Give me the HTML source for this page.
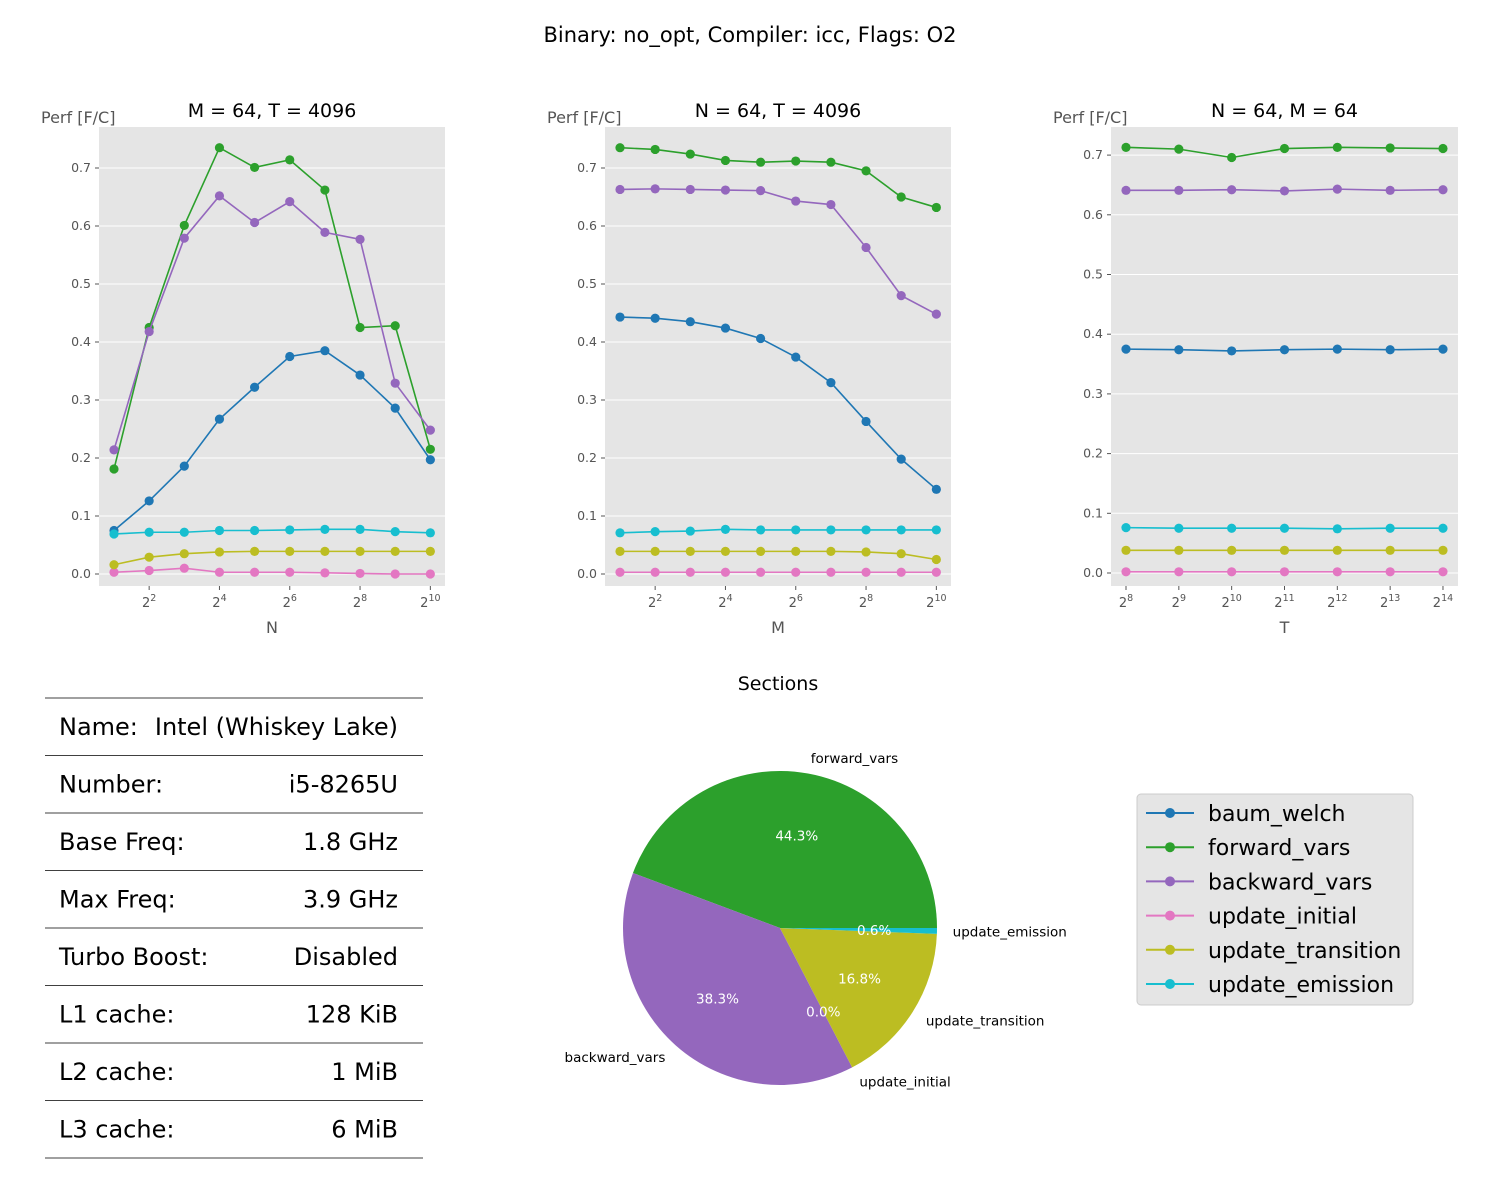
<!DOCTYPE html>
<html><head><meta charset="utf-8"><style>
body{margin:0;background:#fff;font-family:"DejaVu Sans","Liberation Sans",sans-serif}
svg{display:block}
</style></head><body>
<svg id="s" width="1500" height="1200" xmlns="http://www.w3.org/2000/svg">
<text x="750" y="42" font-size="21" text-anchor="middle">Binary: no_opt, Compiler: icc, Flags: O2</text>
</svg>
<script>
const seriesNames=["baum_welch","forward_vars","backward_vars","update_initial","update_transition","update_emission"];
const colors=["#1f77b4","#2ca02c","#9467bd","#e377c2","#bcbd22","#17becf"];
const nExp=[1,2,3,4,5,6,7,8,9,10];
const nBaum=[0.075,0.126,0.186,0.267,0.322,0.375,0.385,0.343,0.286,0.197];
const nFwd=[0.181,0.425,0.601,0.735,0.701,0.714,0.662,0.425,0.428,0.215];
const nBwd=[0.214,0.418,0.579,0.652,0.606,0.642,0.589,0.577,0.329,0.248];
const nInit=[0.003,0.006,0.010,0.003,0.003,0.003,0.002,0.001,0.000,0.000];
const nTrans=[0.016,0.029,0.035,0.038,0.039,0.039,0.039,0.039,0.039,0.039];
const nEmis=[0.069,0.072,0.072,0.075,0.075,0.076,0.077,0.077,0.073,0.071];
const mExp=[1,2,3,4,5,6,7,8,9,10];
const mBaum=[0.443,0.441,0.435,0.424,0.406,0.374,0.330,0.263,0.198,0.146];
const mFwd=[0.735,0.732,0.724,0.713,0.710,0.712,0.710,0.695,0.650,0.632];
const mBwd=[0.663,0.664,0.663,0.662,0.661,0.643,0.637,0.563,0.480,0.448];
const mInit=[0.003,0.003,0.003,0.003,0.003,0.003,0.003,0.003,0.003,0.003];
const mTrans=[0.039,0.039,0.039,0.039,0.039,0.039,0.039,0.038,0.035,0.025];
const mEmis=[0.071,0.073,0.074,0.077,0.076,0.076,0.076,0.076,0.076,0.076];
const tExp=[8,9,10,11,12,13,14];
const tBaum=[0.375,0.374,0.372,0.374,0.375,0.374,0.375];
const tFwd=[0.713,0.710,0.696,0.711,0.713,0.712,0.711];
const tBwd=[0.641,0.641,0.642,0.640,0.643,0.641,0.642];
const tInit=[0.002,0.002,0.002,0.002,0.002,0.002,0.002];
const tTrans=[0.038,0.038,0.038,0.038,0.038,0.038,0.038];
const tEmis=[0.076,0.075,0.075,0.075,0.074,0.075,0.075];
const yTicks=[0,0.1,0.2,0.3,0.4,0.5,0.6,0.7];
const pieLabels=["forward_vars","backward_vars","update_initial","update_transition","update_emission"];
const pieValues=[44.3,38.3,0.0,16.8,0.6];
const pieColors=["#2ca02c","#9467bd","#e377c2","#bcbd22","#17becf"];
const tableKeys=["Name:","Number:","Base Freq:","Max Freq:","Turbo Boost:","L1 cache:","L2 cache:","L3 cache:"];
const tableVals=["Intel (Whiskey Lake)","i5-8265U","1.8 GHz","3.9 GHz","Disabled","128 KiB","1 MiB","6 MiB"];

const S=document.getElementById('s');const NS="http://www.w3.org/2000/svg";
function el(t,a,p){const e=document.createElementNS(NS,t);for(const k in a)e.setAttribute(k,a[k]);(p||S).appendChild(e);return e;}
function txt(x,y,s,a,p){const e=el('text',Object.assign({x:x,y:y},a),p);e.textContent=s;return e;}

function chart(cfg){
 const g=el('g',{});
 
 
 const {x0,x1,y0,y1}=cfg;
 el('rect',{x:x0,y:y0,width:x1-x0,height:y1-y0,fill:'#e5e5e5'},g);
 const xs=e=>cfg.xa+(e-cfg.e0)*cfg.xk;
 const ys=v=>cfg.yb-v*cfg.yk;
 yTicks.forEach(v=>{
  el('line',{x1:x0,x2:x1,y1:ys(v),y2:ys(v),stroke:'#fff','stroke-width':1},g);
  el('line',{x1:x0-4,x2:x0,y1:ys(v),y2:ys(v),stroke:'#555'},g);
  const t=txt(x0-8,ys(v)+4,v.toFixed(1),{'font-size':12.5,fill:'#555','text-anchor':'end'},g);
  
  
 });
 cfg.ticks.forEach(e=>{
  el('line',{x1:xs(e),x2:xs(e),y1:y1,y2:y1+4,stroke:'#555'},g);
  const t=el('text',{x:xs(e),y:y1+21,'font-size':13,fill:'#555','text-anchor':'middle'},g);
  t.innerHTML='2<tspan dy="-6" font-size="9.5">'+e+'</tspan>';
  
  
 });
 cfg.series.forEach((d,i)=>{
  const pts=d.map((v,j)=>xs(cfg.x[j])+','+ys(v)).join(' ');
  const pl=el('polyline',{points:pts,fill:'none',stroke:colors[i],'stroke-width':1.6},g);
  
  
  d.forEach((v,j)=>{const c=el('circle',{cx:xs(cfg.x[j]),cy:ys(v),r:4.6,fill:colors[i]},g);
   
   });
 });
 txt((x0+x1)/2,y0-10,cfg.title,{'font-size':19,'text-anchor':'middle'},g);
 txt((x0+x1)/2,y1+47,cfg.xl,{'font-size':16,fill:'#555','text-anchor':'middle'},g);
 txt(x0-58,y0-4,'Perf [F/C]',{'font-size':16,fill:'#555'},g);
}
chart({name:'chart-n',x0:99,x1:445,y0:127,y1:586,xa:114,e0:1,xk:35.15,yb:574,yk:580,ticks:[2,4,6,8,10],x:nExp,
 series:[nBaum,nFwd,nBwd,nInit,nTrans,nEmis],title:'M = 64, T = 4096',xl:'N'});
chart({name:'chart-m',x0:605,x1:951,y0:127,y1:586,xa:620,e0:1,xk:35.15,yb:574,yk:580,ticks:[2,4,6,8,10],x:mExp,
 series:[mBaum,mFwd,mBwd,mInit,mTrans,mEmis],title:'N = 64, T = 4096',xl:'M'});
chart({name:'chart-t',x0:1111,x1:1458,y0:127,y1:586,xa:1126,e0:8,xk:52.83,yb:573,yk:597,ticks:[8,9,10,11,12,13,14],x:tExp,
 series:[tBaum,tFwd,tBwd,tInit,tTrans,tEmis],title:'N = 64, M = 64',xl:'T'});

// pie
const pg=el('g',{});


txt(778,690,'Sections',{'font-size':19,'text-anchor':'middle'},pg);
const cx=780,cy=928,R=157;const tot=pieValues.reduce((a,b)=>a+b,0);
let a0=0;const labs=[];
pieValues.forEach((v,i)=>{
 const a1=a0+v/tot*2*Math.PI;
 const p=(a)=>[cx+R*Math.cos(a),cy-R*Math.sin(a)];
 const [sx,sy]=p(a0),[ex,ey]=p(a1);
 if(v>0){const s=el('path',{d:`M${cx},${cy} L${sx},${sy} A${R},${R} 0 ${a1-a0>Math.PI?1:0} 0 ${ex},${ey} Z`,fill:pieColors[i]},pg);
  
  }
 labs.push([(a0+a1)/2,i,v]);
 a0=a1;
});
labs.forEach(([m,i,v])=>{
 const lx=cx+1.1*R*Math.cos(m),ly=cy-1.1*R*Math.sin(m);
 txt(lx,ly+5,pieLabels[i],{'font-size':13.5,'text-anchor':Math.cos(m)>=0?'start':'end'},pg);
 txt(cx+0.6*R*Math.cos(m),cy-0.6*R*Math.sin(m)+5,v.toFixed(1)+'%',{'font-size':13.5,fill:'#fff','text-anchor':'middle'},pg);
});

// table
const tg=el('g',{});


const rowH=57.5;
for(let i=0;i<=tableKeys.length;i++)el('line',{x1:45,x2:423,y1:698+i*rowH,y2:698+i*rowH,stroke:'#000','stroke-width':0.8},tg);
tableKeys.forEach((k,i)=>{const y=698+i*rowH+rowH/2+8;
 txt(59,y,k,{'font-size':24},tg);txt(398,y,tableVals[i],{'font-size':24,'text-anchor':'end'},tg);});

// legend
const lg=el('g',{});


el('rect',{x:1137,y:794,width:276,height:211,rx:4,fill:'#e5e5e5',stroke:'#ccc'},lg);
seriesNames.forEach((n,i)=>{const y=813+i*34.2;
 const e=el('g',{},lg);
 
 
 el('line',{x1:1146,x2:1194,y1:y,y2:y,stroke:colors[i],'stroke-width':2},e);
 el('circle',{cx:1170,cy:y,r:5,fill:colors[i]},e);
 txt(1208,y+8,n,{'font-size':22},e);});
</script>
</body></html>
